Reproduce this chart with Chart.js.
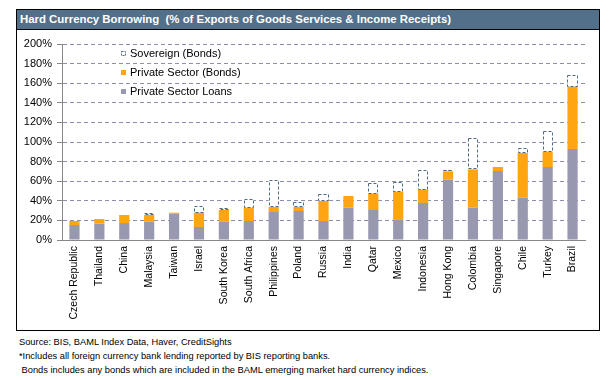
<!DOCTYPE html>
<html>
<head>
<meta charset="utf-8">
<script src="https://cdn.jsdelivr.net/npm/chart.js@4.4.0/dist/chart.umd.min.js"></script>
<style>
  html, body { margin:0; padding:0; background:#fff; width:609px; height:380px; overflow:hidden; font-family: Arial, "Liberation Sans", sans-serif; }
  #frame { position:absolute; left:16px; top:9px; width:584px; height:322px; box-sizing:border-box; border:1px solid #000; }
  #title { position:absolute; left:0; top:0; width:582px; height:20px; box-sizing:border-box; background:#52708a; border-bottom:1px solid #000; color:#fff; font-weight:bold; font-size:11.4px; line-height:19px; padding-left:3px; white-space:nowrap; }
  #wrap { position:absolute; left:17px; top:30px; width:582px; height:300px; }
  .note { position:absolute; left:19px; font-size:9.3px; color:#000; white-space:pre; line-height:12px; }
</style>
</head>
<body>
<div id="frame"><div id="title">Hard Currency Borrowing&nbsp;&nbsp;(% of Exports of Goods Services &amp; Income Receipts)</div></div>
<div id="wrap"><canvas id="c" width="582" height="300"></canvas></div>
<div class="note" style="top:336px">Source: BIS, BAML Index Data, Haver, CreditSights</div>
<div class="note" style="top:350px">*Includes all foreign currency bank lending reported by BIS reporting banks.</div>
<div class="note" style="top:364px"> Bonds includes any bonds which are included in the BAML emerging market hard currency indices.</div>
<script>
const categories = ['Czech Republic','Thailand','China','Malaysia','Taiwan','Israel','South Korea','South Africa','Philippines','Poland','Russia','India','Qatar','Mexico','Indonesia','Hong Kong','Colombia','Singapore','Chile','Turkey','Brazil'];
const privateLoans = [15.3,16.7,17.3,18.7,26.9,13.3,18.7,19.4,28.6,29.6,19.4,33.0,30.6,21.1,37.8,61.6,33.0,70.4,43.2,74.5,92.9];
const privateBonds = [4.1,4.7,8.2,6.8,1.0,14.6,11.9,13.6,5.1,4.1,20.4,11.9,16.7,28.2,13.6,8.5,39.1,4.1,45.6,15.6,63.6];
const sovereignBonds = [0,0,0,1.7,0,6.5,1.7,8.5,27.2,5.1,6.8,0,10.5,9.9,19.7,1.0,31.6,0,4.7,21.1,11.9];
const yTicks = [0,20,40,60,80,100,120,140,160,180,200];

const GRAY = '#9899b0', ORANGE = '#ffa511', SOV = '#4f6b80';

const dashedBars = {
  id: 'dashedBars',
  afterDatasetsDraw(chart) {
    const ctx = chart.ctx;
    const meta = chart.getDatasetMeta(2);
    ctx.save();
    ctx.strokeStyle = SOV;
    ctx.lineWidth = 1;
    ctx.setLineDash([3, 2]);
    meta.data.forEach((el, i) => {
      if (!sovereignBonds[i]) return;
      const p = el.getProps(['x','y','base','width'], true);
      const l = Math.round(p.x - p.width/2) + 0.5;
      const r = Math.round(p.x + p.width/2) - 0.5;
      const t = Math.round(p.y) + 0.5;
      const b = Math.round(p.base) - 0.5;
      ctx.strokeRect(l, t, r - l, b - t);
    });
    ctx.restore();
  }
};

const legendPlugin = {
  id: 'customLegend',
  afterDraw(chart) {
    const ctx = chart.ctx, a = chart.chartArea;
    const order = [2, 1, 0];
    ctx.save();
    ctx.font = '11px Arial, "Liberation Sans", sans-serif';
    ctx.textBaseline = 'middle';
    ctx.textAlign = 'left';
    order.forEach((di, row) => {
      const ds = chart.data.datasets[di];
      const x = a.left + 59, y = Math.round(a.top + 10 + row * 19.2);
      if (di === 2) {
        ctx.fillStyle = '#fff';
        ctx.fillRect(x, y - 3, 5, 5);
        ctx.strokeStyle = SOV; ctx.lineWidth = 1; ctx.setLineDash([2,1]);
        ctx.strokeRect(x + 0.5, y - 2.5, 4, 4);
        ctx.setLineDash([]);
      } else {
        ctx.fillStyle = ds.backgroundColor;
        ctx.fillRect(x, y - 3, 5, 5);
      }
      ctx.fillStyle = '#000';
      ctx.fillText(ds.label, x + 9, y);
    });
    ctx.restore();
  }
};

new Chart(document.getElementById('c'), {
  type: 'bar',
  data: {
    labels: categories,
    datasets: [
      { label: 'Private Sector Loans', data: privateLoans, backgroundColor: GRAY, borderWidth: 0 },
      { label: 'Private Sector (Bonds)', data: privateBonds, backgroundColor: ORANGE, borderWidth: 0 },
      { label: 'Sovereign (Bonds)', data: sovereignBonds, backgroundColor: '#ffffff', borderWidth: 0 }
    ]
  },
  options: {
    responsive: false,
    animation: false,
    devicePixelRatio: 1,
    layout: { padding: { left: 0, right: 14, top: 14, bottom: 0 } },
    datasets: { bar: { categoryPercentage: 1, barPercentage: 0.41 } },
    plugins: { legend: { display: false }, tooltip: { enabled: false } },
    scales: {
      x: {
        stacked: true,
        grid: { display: true, drawOnChartArea: false, drawTicks: false },
        border: { display: true, color: '#888888', width: 1 },
        ticks: { autoSkip: false, maxRotation: 90, minRotation: 90, padding: 6, color: '#000',
                 font: { family: 'Arial, "Liberation Sans", sans-serif', size: 10.5 } },
        afterFit(s) { s.height = 90; }
      },
      y: {
        stacked: true,
        min: 0, max: 200,
        afterBuildTicks(s) { s.ticks = yTicks.map(v => ({ value: v })); },
        grid: { color: '#8e8eae', lineWidth: 1, tickLength: 5, tickColor: '#888888', tickBorderDash: [] },
        border: { display: true, color: '#888888', width: 1, dash: [4, 3] },
        ticks: { padding: 5, color: '#000', callback: v => v + '%',
                 font: { family: 'Arial, "Liberation Sans", sans-serif', size: 11 } },
        afterFit(s) { s.width = 45; }
      }
    }
  },
  plugins: [dashedBars, legendPlugin]
});
</script>
</body>
</html>
